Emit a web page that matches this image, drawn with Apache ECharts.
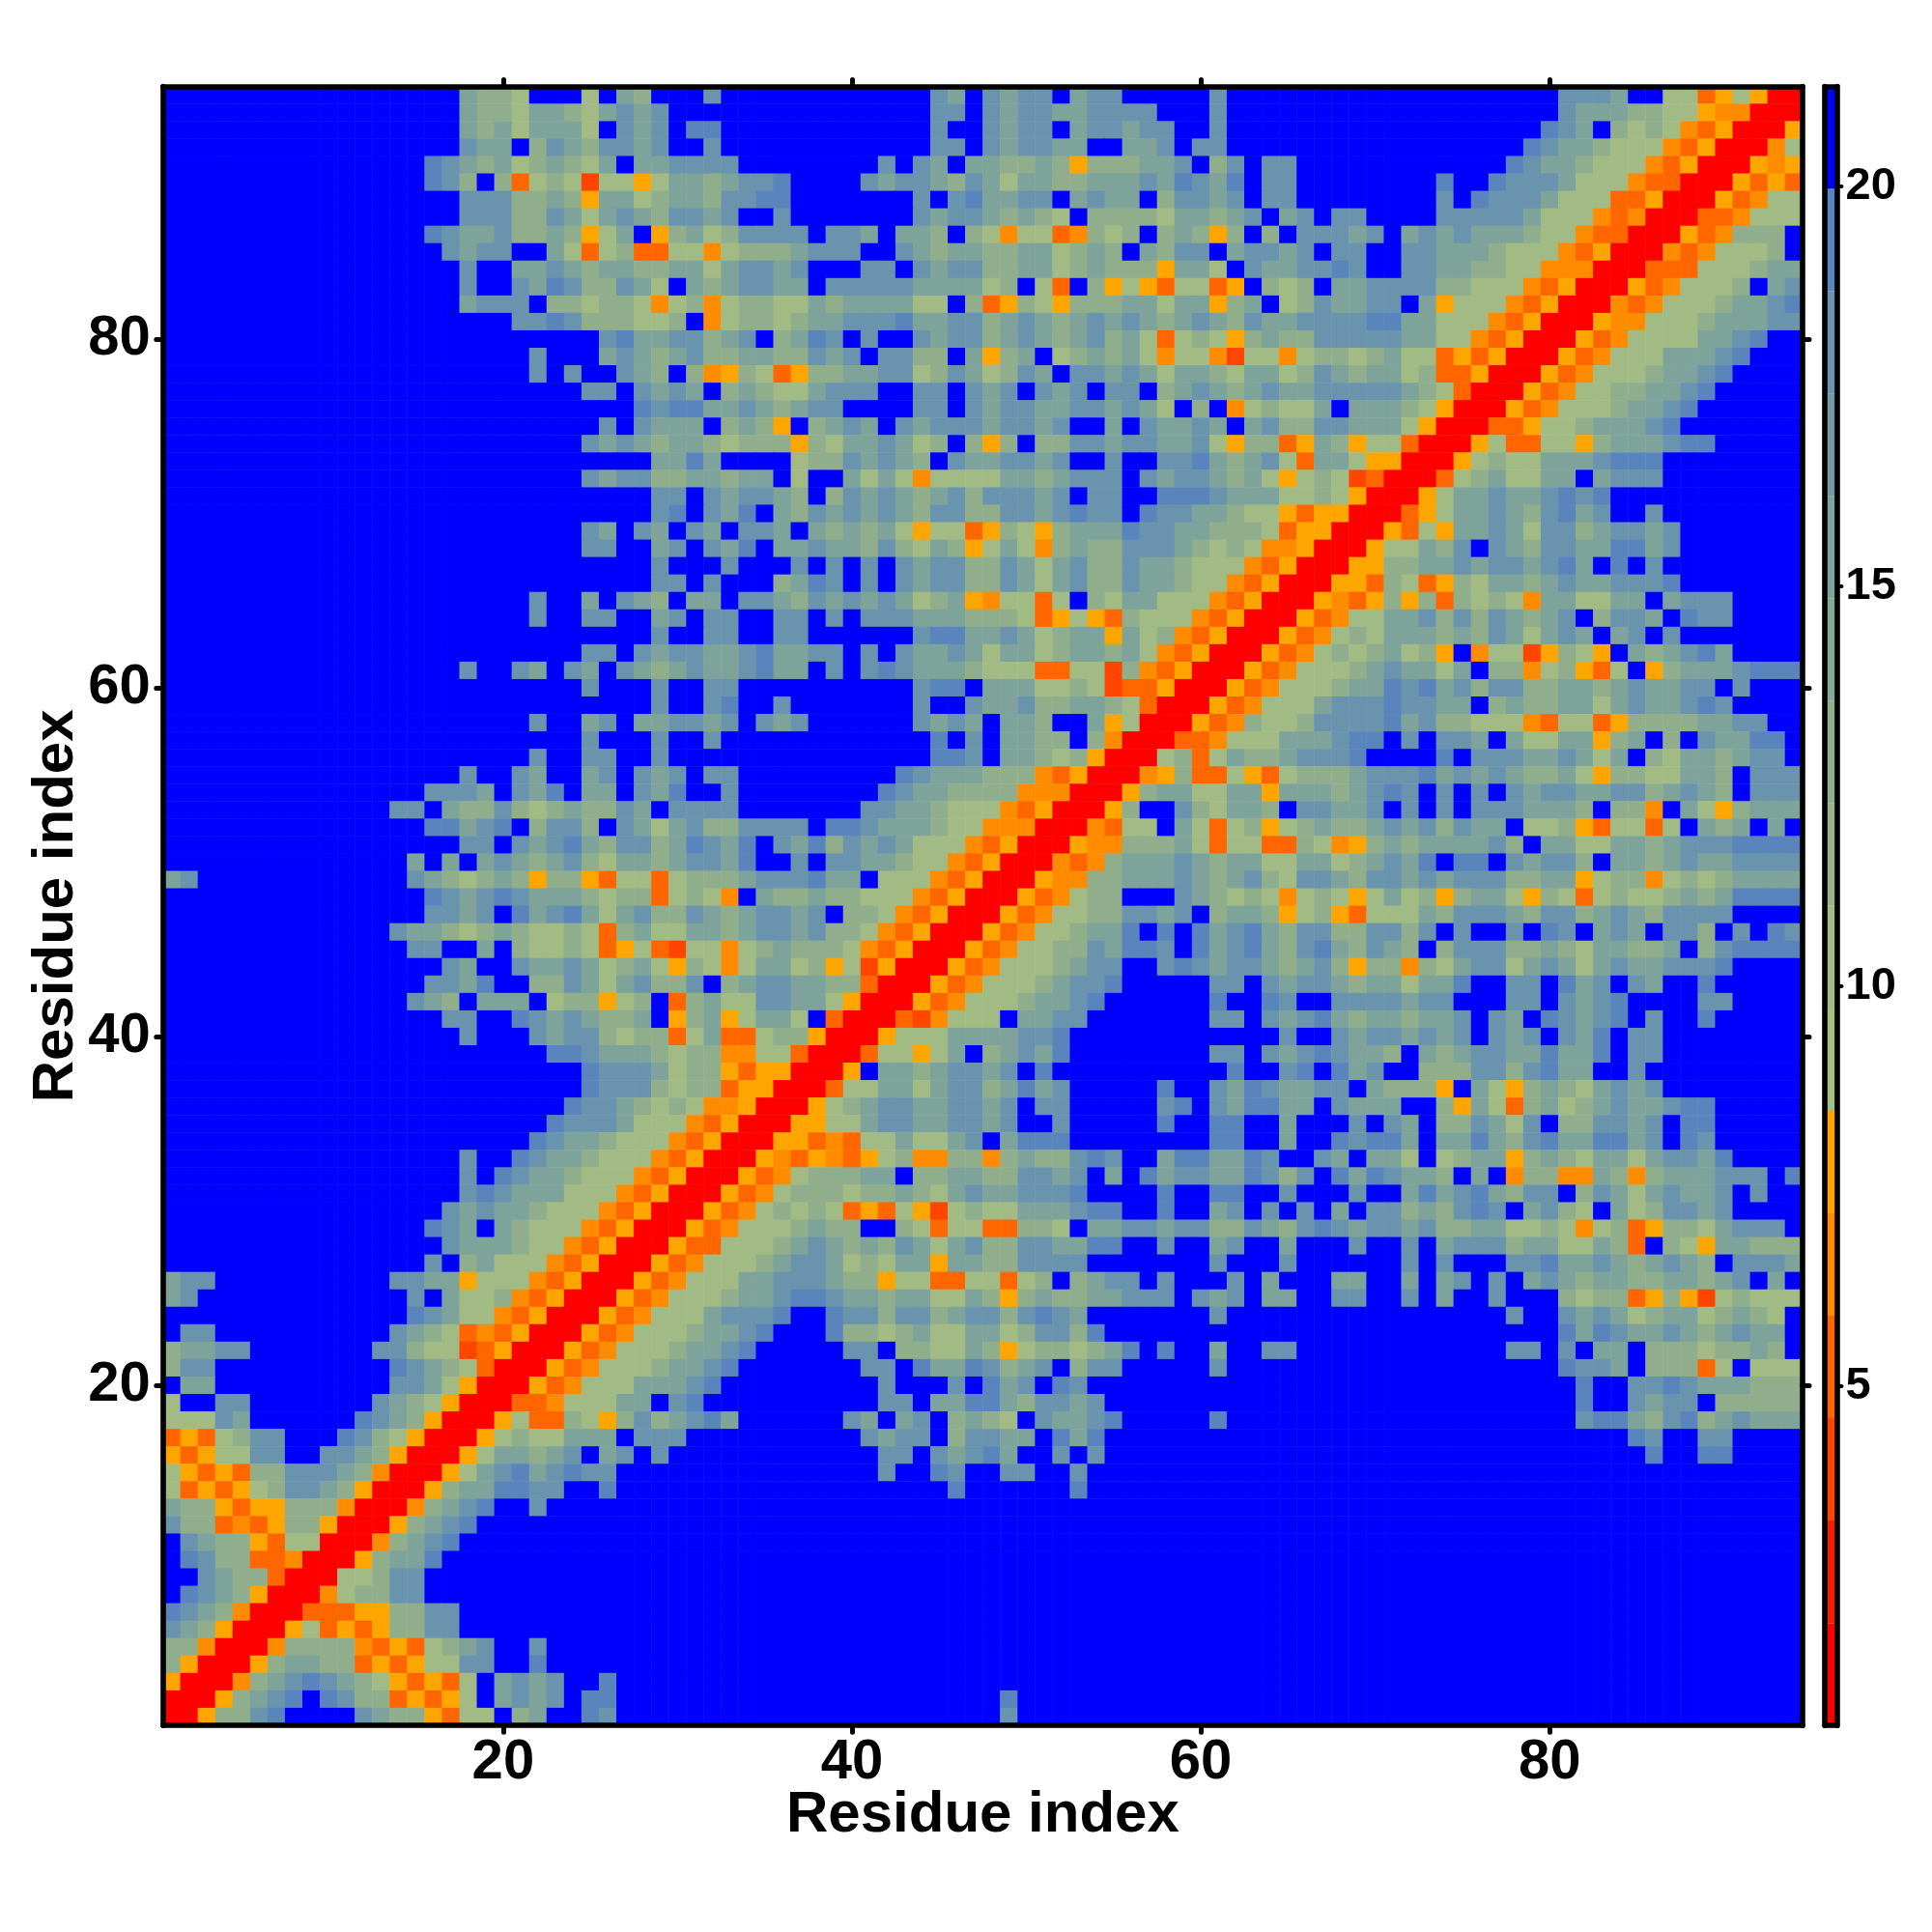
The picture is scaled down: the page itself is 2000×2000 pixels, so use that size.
<!DOCTYPE html>
<html><head><meta charset="utf-8">
<script src="https://cdn.jsdelivr.net/npm/echarts@6/dist/echarts.min.js"></script>
<style>html,body{margin:0;padding:0;background:#fff}#c{width:2000px;height:2000px}</style>
</head><body><div id="c"></div>
<script>
// One string per residue row, top row (94) first. Each character is one cell.
// . blue, 1..5 sage to steel, A amber, M orange, O dark orange, D orange-red, R red. (n) = n blue cells.
const contactRows = [
"(17)3221...1.32... 4(12)43.4344.344(5)4. (18)4443..11OA1ARR",
"(17)322133213434.. .(12)44.4344334444...4. (18)43332211AMMRRR",
"(17)32313331.434.5 5(12)4..4344.344344..4. (17)543.2121MOARRRA",
"(17)433.24324434.. 4(12)44.434433..334.44. (16)54332111MOARRRM1",
"(15)54323123213.3344 44(8)4.43.332232A222334.24 .44(12)54332111MOARRRAMA",
"(15)542.2O121D11A133 23445(4)4344324313322333435435 .44(8)5..54443111MOORRRAOAO",
"(17)4442232A331233 24455(7)4.453344.3433.24434 .44(8)4.54443111OOARRRAOM11",
"(17)44422431343244 34..4(7)434432321.222213323 4.34.44(4)444443111MOMRRROOM111",
"(15)543342232A13.A23 124444.443.332.21M11OM212.232A2 .2.44434.3434333211MOORRRAOM222.",
"(16)4344..31O12OO11 M12223444..4323322331232.3244.3 4434.44..443332111MOARRRMOM1112.",
"(17)4..33432332233 134434...44.43442233123222A331. 4334454..44332211MMMRRROOO111233",
"(17)4..435422431.3 234433.44444333312.1O.2A1AO11OA .212.33444422111MOARRRAOM1112.34",
"(17)3444.221221M12 M1221132333311.2OA21A22233133A2 3.1243344.3A111MOARRRMOM11123345",
"(20)4454222112. M122123344453344234323434323432 43344445533111MOARRRAMM111233344",
"(25)453344 234.2354.4..43442343234231O121A 2322444443311MOARRRAOM11113345..",
"(21)4...343234 223322434.4422.3A23.123231M11MD 11M12212311OAOARRRAOM11133345...",
"(21)4.4..432.2 MA21OA22334412431243.4434313321 33124323312OOARRRAOM11123345....",
"(24)44.4343 .232113444..44.434.434.44.23432 343344444321ORRRAOM11223345(5)",
"(27)5455 33432344....44.434433443431.2.M 12113.33321ARRRAOM11123345(6)",
"(25)4.4333 .232A.2343.4344434434..3.43343. 3422443331ARRROOA11233345(7)",
"(24)4343233 21222A21334312.2A2.22443443341A 22OA32A11ORRRA1OO11A2333455(5)",
"(28)335 3....12243432.4334434..4..44532 341O331AARRRA12113334555(8)",
"(24)4344223 3233.1..3131M11113323444.434432 31A121DORRRO1231133.3444(8)",
"(28)44. 434432.24343234244434.44..55543 331121ARRRA1334334545(11)",
"(28)45. 435.32434343244224434544.544332 11AOAARRROA1334324534..4(8)",
"(24)43.43.4 3.443.323231A11OA21A23335443322 21OAARRRAO1A3343144234434(7)",
"(24)44..34. 435.33433242132A131M23224443212 1MMARRRA11324.43244335534(7)",
"(28)4.. .4...4.4.4.43442243134224332111 MOARRRAA223343443453.5.4(8)",
"(28)44. 4...2354.4.4344224313422433211M OARRRAAO21OA2133234334445(7)",
"(21)4..3.432.3 3.4432434343123AM11O1.2133111MO ARRRAMOA2A2O2121M331133.3444(4)",
"(21)4..44..34. 44..44.4.4443332221OA1AO2111MOA RRRAOM1133424243234.2443.544(4)",
"(28)4.. 44..44(6)45533431233A312MOAR RRAOM121333232431343.34.4(7)",
"(24)44.4344 33453344.4.433431331233231MOARR RAOM1212312A.M11DA21A.323453(4)",
"(17)4..43.43.43234 334533.4.4543332111OO11D2MOARRR AOM1112343313.22M12AO1.A23334555",
"(24)4...4.. 44(10)455.3331121DOOARRRA OM1112335453424422332343344.4...",
"(28)4.. 45..4(7)4..4334223321ORRRAO M111344454433.23223313433454(4)",
"(21)4..34.3344 34.434(6)4343.332..3A1RRRAOM 2112444453422111MO11OA22223344..",
"(24)4...4.. 4(12)5.4.3322.2MRRROOM1 11333455.4.443.31133A23.2.43355.",
"(21)4..44..4.. (13)554.33212ARRR12O13 2234445(4)5.444334313.21332344.",
"(17)4..43..34.434. 44(9)54333222MOARRRMA2OO1 AO122234445343432231A2211332.444",
"(15)4443.435.33.435. .4(8)54332222MMMRRRA233113 3A33323454.4.4.4344334423432.444",
"(13)44.322421232243.44 44(7)44332111MOARRRA2..4213 32.44334.4.4.4443332.22M.31A2333",
"(15)55345.2442.43134 224444.554333211MMMRRRMO11.31O1 2A1232234342433.112AO11O1.323.3.",
"(17)44.43453244235 435.43524343111MOARRRAMM22231O1 1OO21MA232333342.331133234445555",
"(14)3.3.3432342133234 435..4.4433211MOARRRMOM23334323 31133123435.55.43442.33234334444",
"34(12)4321232A22AO11O12 223444533.111MOARRRAMM223334323 4214432443434442233A122M12123333",
"(15)5434543332122O12 1M.322322111MOARRRAOM122...4321 21M121A1312A2331A21O121123235555",
"(15)4434.53453134224 3234434.221MOARRRAOM11224434.23 32A12AO111324443244234324444(4)",
"(13)433212321121O23113 3234434221MOARRRAOM112335.5.534 53244224424.4..4.54.343.442.4.54",
"(14)44..3.21121OA1OD1 1M1232221MOARRRAOM112243554.534 5324532432.24442232133223.245555",
"(16)43..433431231A2 1M13312A1DARRRAOM1112344..45434 432342A22M213441343134334445(4)",
"(15)4435..2243134224 .23443322ORRRAOM11123445(5)44 .434432331335..44.534.43..5(5)",
"(14)432.333.122A12.O2 31144331ARRRAOM11123345(6)5. .54..4444344...44.4345(4)44(4)",
"(16)44..54343223.A2 3A1331.ORRRODM111.3344(7)44 .434532332334.43.54345.4..5(5)",
"(17)4...43442122O1 3OO122ARRRA1113333445(10) ..4..43443434.434.435.44(8)",
"(22)554333212 2MM11ORRRO11A13.23435(8)44 .43454332.32344335335.44(8)",
"(24)5444312 2AOAARRRA.33234434.5(10)5 ..45.534..2224424533..4(9)",
"(24)5444212 2OAARRRO1133134423534(5)5..43 543344.3222A.31A23213434(8)",
"(23)54432121 MMARRRA12344334434.44(5)45.43 5533.4333..2A31O23123433455(5)",
"(22)54443111M OARRRAA11344334434..4(5)5..55 ..3...4.43.224314.224434.55(5)",
"(21)54332111MO ARRRAAOMO1131134.3555(8)55 ..3..54553.3353245335534.54(5)",
"(17)4..54332111MOA RRRAMOAMOA12MM22M2322454..35533 54..43.331.1233A232133134435(4)",
"(17)4.54332111MOAR RRAOM122233.2233224434.3.534433 5424.5354332.3.M22MM32M2333444.5",
"(17)454333111MOARR RAOM122212232134334445(4)5..55 ..4...4..353453244.243134334.4..",
"(16)434332111MOARRR AOM12121OAO1AD1211333455..5..34 .4.4.3.44232454.3421.3124434(4)",
"(15)543.32111MOARRRA OM1112322..21O11OO221.334434422 4324543443422331121M12OA2213444.",
"(16)4333211MOARRRAO O11123432324313422443355..4..34 ..3...4..4.34442331132O.21A33222",
"(15)4.23111MOARRRAOM 1112344312133A33224444(7)4. ..4(6)4.4...445334323432.4443",
"344(10)4433A111MOARRRAOM1 1133444322A11OO11O12.2344.4...4 .3...33..3.34.4.3432332233234.3.",
"34(12)4.3112MOARRRAOM11 12334554332331132A232233444.434 .33..44..4.3..4...2122OA2AD12111",
"(14)54311MOARRRAOM111 34445..544244234424543(7)4. (15)4..4343123312321.",
".44(10)4321OMOARRRAOM1112 3345...5221231133124425(8) (18)5354334323433.",
"23344(7)44211DOARRRAOM11123 345(5)44.221132A1221235.5..3. .44(12)44.4.33.22212232.",
"244(10)54321ORRRAOM111233 45(7)44.53354234.244(5)4. (18)5443.222O1.111",
".33(10)4431ARRRAOM1113334 5(9)4...4.534.54(9) (19)5..4454333222",
"1..44(7)4321ARRROOM11133.45 (10)44.3355324434(8) (19)5..4344.22222",
"11143(6)5432ARRRA1OO21A24234 53(6)43.34.2321.43345(5)5. (19)4553245234333",
"OAO1244...5421ARRRA1211333.444. (9)4344.24433.535(8) (22)54..44(4)",
"AOA1144..4432ARRRA133234.34.4.. (10)44.43453..4.4(8) (23)5..55(4)",
"1AOAO2244432MRRRA134534544(5) (10)4..54..44..4(9) (32)",
"1OAOA124432ARRRA2335544..5(5) (14)5(6)5(9) (32)",
"322AOAA222MRRRM2345..4(9) (31) (32)",
"422OMOA22ARRRA2345(13) (31) (32)",
".4322AO11RRRM2345(14) (31) (32)",
".5422OOMRRRA2335(15) (31) (32)",
"..4322ORRR11244(16) (31) (32)",
".5432ARRRM12244(16) (31) (32)",
"5432MRRROOOAA2244(14) (31) (32)",
"432ARRRA1OAOA2244(14) (31) (32)",
"22MRRRM2222MOAO1234..4(9) (31) (32)",
"2ARRRA23322OAOA1144..5(9) (31) (32)",
"ARRRM23454321AOAO1.3434..5(5) (31) (32)",
"RRRA2345.5422OAOA1.3434.55(5) (17)5(13) (32)",
"RRA2245(4)4322AO11.23..54(5) (17)4(13) (32)"
];
// Distance (value) each cell character stands for
const cellValues = {R:1.4,D:3.96,O:5.24,M:6.52,A:7.8,'1':10.36,'2':12.92,'3':15.48,'4':18.04,'5':19.32,'.':20.6};
const barMin = 0.76, barMax = 21.25;
const bandColors = ['#ff0000','#f02000','#ff4500','#ff6600','#ff8c00','#ffa500','#a6be80','#a2ba84','#98b389','#90ae8c','#86a894','#7da39a','#739aa4','#6a93ad','#5a85bc','#0000ff'];
const barTicks = [5,10,15,20];
const residues = Array.from({length:94},(_,i)=>String(i+1));
const tickEvery = 20;
const xTitle = 'Residue index', yTitle = 'Residue index';

const bandW = (barMax-barMin)/bandColors.length;
const decode = s => { let t = s.replace(/\s/g,'').replace(/\((\d+)\)/g,(m,n)=>'.'.repeat(+n));
  if (t.length!==94) console.error('row length',t.length,s); return t.padEnd(94,'.').slice(0,94); };
const grid = contactRows.map(decode);
const cells = [];
grid.forEach((row,ri)=>{ const y = 93-ri; for(let x=0;x<94;x++) cells.push([x,y,cellValues[row[x]]]); });
const pieces = bandColors.map((c,i)=>({gte:barMin+i*bandW, lt: i===bandColors.length-1? barMax+1 : barMin+(i+1)*bandW, color:c}));
const barData = bandColors.map((c,i)=>[barMin+i*bandW, barMin+(i+1)*bandW, i]);

const font = {fontFamily:'Liberation Sans',fontWeight:'bold',color:'#000'};
const line = {show:true,onZero:false,lineStyle:{color:'#000',width:5.6,cap:'round'}};
const tickFn = i => (i+1)%tickEvery===0;
const tick = {show:true,inside:false,alignWithLabel:true,interval:tickFn,length:7,lineStyle:{color:'#000',width:5,cap:'round'}};
const catAxis = (gridIndex,position,extra)=>Object.assign({type:'category',gridIndex,position,data:residues,z:10,axisLine:line,axisTick:tick,
  axisLabel:{show:false},splitLine:{show:false},splitArea:{show:false}},extra);
const labelFull = {show:true,interval:tickFn,fontSize:58,...font};

const chart = echarts.init(document.getElementById('c'),null,{renderer:'canvas',width:2000,height:2000});
chart.setOption({
  animation:false,
  backgroundColor:'#fff',
  grid:[{left:168.8,top:89.5,width:1697.2,height:1696.7,containLabel:false},
        {left:1889.2,top:89.5,width:12.3,height:1696.7,containLabel:false}],
  visualMap:{type:'piecewise',show:false,seriesIndex:0,dimension:2,pieces},
  xAxis:[
    catAxis(0,'bottom',{axisLabel:{...labelFull,margin:10},name:xTitle,nameLocation:'middle',nameGap:63,nameMoveOverlap:false,
      nameTextStyle:{fontSize:60,...font}}),
    catAxis(0,'top'),
    {type:'value',gridIndex:1,position:'bottom',min:0,max:1,z:10,axisLine:line,axisTick:{show:false},axisLabel:{show:false},splitLine:{show:false}},
    {type:'value',gridIndex:1,position:'top',min:0,max:1,z:10,axisLine:line,axisTick:{show:false},axisLabel:{show:false},splitLine:{show:false}}
  ],
  yAxis:[
    catAxis(0,'left',{axisLabel:{...labelFull,margin:13,padding:[6,0,0,0]},name:yTitle,nameLocation:'middle',nameGap:80,nameMoveOverlap:false,
      nameTextStyle:{fontSize:60,...font}}),
    catAxis(0,'right'),
    {type:'value',gridIndex:1,position:'right',min:barMin,max:barMax,z:10,axisLine:line,splitLine:{show:false},
      axisTick:{show:true,length:5,customValues:barTicks,lineStyle:{color:'#000',width:4,cap:'round'}},
      axisLabel:{show:true,customValues:barTicks,margin:9,fontSize:47,padding:[6,0,0,0],...font}},
    {type:'value',gridIndex:1,position:'left',min:barMin,max:barMax,z:10,axisLine:line,axisTick:{show:false},axisLabel:{show:false},splitLine:{show:false}}
  ],
  series:[
    {type:'heatmap',xAxisIndex:0,yAxisIndex:0,data:cells,progressive:0,animation:false,emphasis:{disabled:true},itemStyle:{borderWidth:0}},
    {type:'custom',xAxisIndex:2,yAxisIndex:2,data:barData,encode:{x:-1,y:[0,1]},clip:true,animation:false,silent:true,
      renderItem:(p,api)=>{
        const a=api.coord([0,api.value(0)]), b=api.coord([1,api.value(1)]);
        return {type:'rect',shape:{x:a[0],y:b[1],width:b[0]-a[0],height:a[1]-b[1]},style:{fill:bandColors[api.value(2)]}};
      }}
  ]
});
</script></body></html>
